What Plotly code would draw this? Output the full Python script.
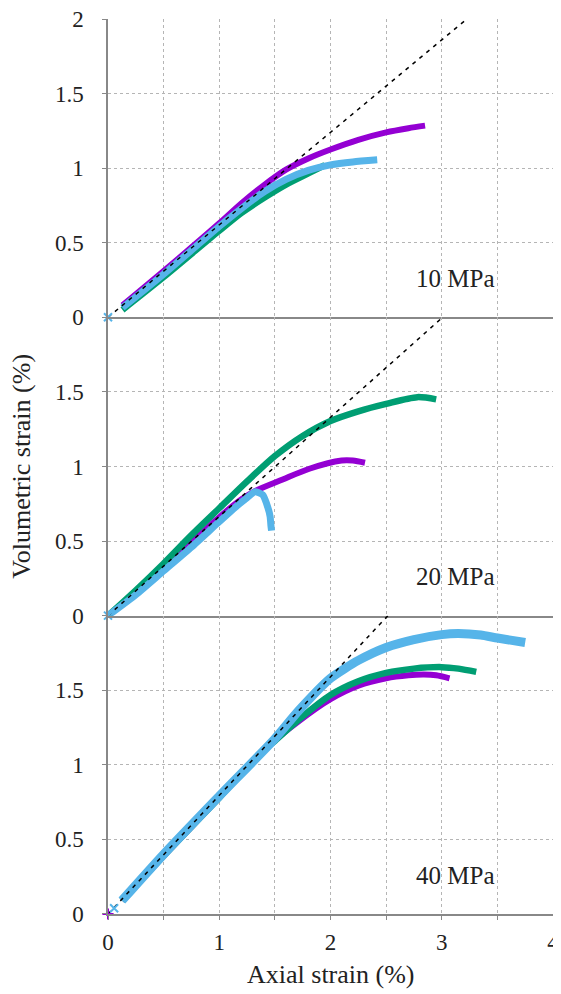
import plotly.graph_objects as go
from plotly.subplots import make_subplots

# ---------------- data ----------------
panel_labels = ["10 MPa", "20 MPa", "40 MPa"]
label_x = 3.12
label_y = 0.26

# slopes of the dashed reference lines (one per panel)
ref_slopes = [0.62, 0.665, 0.795]

# 10 MPa
p10_x = [0.13, 0.5, 1.0, 1.2, 1.4, 1.6, 1.8, 2.0, 2.25, 2.5, 2.7, 2.85]
p10_y = [0.08, 0.31, 0.63, 0.765, 0.885, 0.99, 1.065, 1.125, 1.19, 1.24, 1.268, 1.285]
g10_x = [0.13, 0.5, 1.0, 1.2, 1.4, 1.6, 1.8, 1.95]
g10_y = [0.05, 0.27, 0.58, 0.70, 0.80, 0.89, 0.965, 1.02]
b10_x = [0.13, 0.5, 1.0, 1.2, 1.4, 1.6, 1.8, 2.0, 2.2, 2.42]
b10_y = [0.065, 0.29, 0.61, 0.73, 0.84, 0.925, 0.985, 1.022, 1.042, 1.056]

# 20 MPa
p20_x = [0.0, 0.25, 0.5, 0.75, 1.0, 1.2, 1.32, 1.57, 1.81, 2.1, 2.2, 2.31]
p20_y = [0.0, 0.15, 0.32, 0.49, 0.66, 0.78, 0.835, 0.913, 0.985, 1.04, 1.04, 1.025]
g20_x = [0.0, 0.25, 0.5, 0.75, 1.0, 1.25, 1.5, 1.75, 2.0, 2.25, 2.5, 2.78, 2.95]
g20_y = [0.0, 0.17, 0.35, 0.54, 0.72, 0.90, 1.07, 1.205, 1.305, 1.37, 1.42, 1.465, 1.45]
b20_x = [0.0, 0.25, 0.5, 0.75, 1.0, 1.15, 1.25, 1.32, 1.39, 1.435, 1.457, 1.465, 1.47]
b20_y = [0.0, 0.14, 0.30, 0.46, 0.63, 0.73, 0.79, 0.83, 0.81, 0.73, 0.665, 0.60, 0.57]

# 40 MPa
p40_x = [0.125, 0.5, 1.0, 1.4, 1.71, 2.0, 2.25, 2.5, 2.7, 2.84, 2.95, 3.07]
p40_y = [0.09, 0.39, 0.78, 1.10, 1.29, 1.44, 1.53, 1.58, 1.60, 1.605, 1.60, 1.58]
g40_x = [0.125, 0.5, 1.0, 1.4, 1.5, 1.71, 2.0, 2.25, 2.5, 2.75, 3.0, 3.15, 3.31]
g40_y = [0.09, 0.39, 0.78, 1.10, 1.16, 1.30, 1.468, 1.56, 1.616, 1.645, 1.655, 1.645, 1.623]
b40_x = [0.125, 0.5, 1.0, 1.5, 1.71, 2.0, 2.25, 2.5, 2.75, 3.0, 3.15, 3.35, 3.5, 3.75]
b40_y = [0.09, 0.40, 0.79, 1.175, 1.36, 1.58, 1.70, 1.787, 1.84, 1.873, 1.88, 1.87, 1.85, 1.82]

# isolated first data points
start10_x, start10_y = [0.0], [0.0]
start20_x, start20_y = [0.0], [0.0]
start40p_x, start40p_y = [0.0], [0.0]
start40b_x, start40b_y = [0.055], [0.038]

x_ticks = [0, 0.5, 1, 1.5, 2, 2.5, 3, 3.5, 4]
x_ticktext = ["0", "", "1", "", "2", "", "3", "", "4"]
y_ticks = [0, 0.5, 1, 1.5, 2]
y_ticktext_top = ["0", "0.5", "1", "1.5", "2"]
y_ticktext_low = ["0", "0.5", "1", "1.5", ""]

PURPLE = "#9400D3"
GREEN = "#009E73"
BLUE = "#56B4E9"
FONT = "Liberation Serif"
TXT = "#222222"

fig = make_subplots(rows=3, cols=1, shared_xaxes=True, vertical_spacing=0)

panels = [
    (p10_x, p10_y, g10_x, g10_y, b10_x, b10_y),
    (p20_x, p20_y, g20_x, g20_y, b20_x, b20_y),
    (p40_x, p40_y, g40_x, g40_y, b40_x, b40_y),
]
blue_w = [7, 7, 9]
for i, (px, py, gx, gy, bx, by) in enumerate(panels):
    row = i + 1
    fig.add_trace(go.Scatter(x=px, y=py, mode="lines",
                             line=dict(color=PURPLE, width=6, shape="spline", smoothing=0.8),
                             showlegend=False, hoverinfo="skip"), row=row, col=1)
    fig.add_trace(go.Scatter(x=gx, y=gy, mode="lines",
                             line=dict(color=GREEN, width=6.5, shape="spline", smoothing=0.8),
                             showlegend=False, hoverinfo="skip"), row=row, col=1)
    fig.add_trace(go.Scatter(x=bx, y=by, mode="lines",
                             line=dict(color=BLUE, width=blue_w[i], shape="spline", smoothing=0.6),
                             showlegend=False, hoverinfo="skip"), row=row, col=1)
    s = ref_slopes[i]
    fig.add_trace(go.Scatter(x=[0, 2.0 / s], y=[0, 2.0], mode="lines",
                             line=dict(color="black", width=1.5, dash="4px,5px"),
                             showlegend=False, hoverinfo="skip"), row=row, col=1)
    fig.add_annotation(x=label_x, y=label_y, text=panel_labels[i], showarrow=False,
                       xref=f"x{'' if row == 1 else row}", yref=f"y{'' if row == 1 else row}",
                       font=dict(family=FONT, size=25, color=TXT))

# isolated starting points
for sx, sy, col, sym, row in [
    (start10_x, start10_y, BLUE, "x-thin", 1),
    (start20_x, start20_y, BLUE, "x-thin", 2),
    (start40p_x, start40p_y, PURPLE, "cross-thin", 3),
    (start40b_x, start40b_y, BLUE, "x-thin", 3),
]:
    fig.add_trace(go.Scatter(x=sx, y=sy, mode="markers", cliponaxis=False,
                             marker=dict(symbol=sym, size=8, line=dict(color=col, width=2)),
                             showlegend=False, hoverinfo="skip"), row=row, col=1)

axis_col = "#888888"
grid_col = "#b5b5b5"
for row in (1, 2, 3):
    fig.update_xaxes(range=[0, 4], tickvals=x_ticks, ticktext=x_ticktext, automargin=False,
                     showgrid=True, gridcolor=grid_col, griddash="dot", gridwidth=1,
                     showline=True, linecolor=axis_col, linewidth=1.5,
                     zeroline=False, ticks="outside" if row == 3 else "",
                     ticklen=4, tickcolor=axis_col, ticklabeloverflow="allow",
                     showticklabels=(row == 3), ticklabelstandoff=3,
                     tickfont=dict(family=FONT, size=23, color=TXT),
                     row=row, col=1)
    fig.update_yaxes(range=[0, 2], tickvals=y_ticks, automargin=False,
                     ticktext=y_ticktext_top if row == 1 else y_ticktext_low,
                     showgrid=True, gridcolor=grid_col, griddash="dot", gridwidth=1,
                     showline=True, linecolor=axis_col, linewidth=1.5,
                     zeroline=False, ticks="outside", ticklen=4, tickcolor=axis_col,
                     ticklabelstandoff=14, ticklabeloverflow="allow",
                     tickfont=dict(family=FONT, size=23, color=TXT),
                     row=row, col=1)

fig.add_annotation(text="Axial strain (%)", xref="paper", yref="paper",
                   x=0.5, y=-0.068, xanchor="center", yanchor="middle", showarrow=False,
                   font=dict(family=FONT, size=26, color=TXT))
fig.add_annotation(text="Volumetric strain (%)", xref="paper", yref="paper",
                   x=-0.195, y=0.5, xanchor="center", yanchor="middle",
                   textangle=-90, showarrow=False,
                   font=dict(family=FONT, size=26, color=TXT))

# the page body adds an 8px offset; size/margins compensate for it
fig.update_layout(width=553, height=986,
                  margin=dict(l=100, r=8, t=11, b=80),
                  plot_bgcolor="white", paper_bgcolor="white")

fig.write_html("out.html")
